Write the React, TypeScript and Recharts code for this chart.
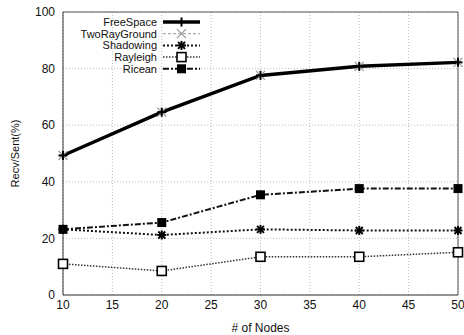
import React from 'react';
import {
  LineChart, Line, XAxis, YAxis, CartesianGrid, Legend, ReferenceLine,
} from 'recharts';

const nodes = [10, 20, 30, 40, 50];
const freeSpace = [49.3, 64.6, 77.6, 80.8, 82.2];
const twoRayGround = [49.3, 64.6, 77.6, 80.8, 82.2];
const shadowing = [23.2, 21.2, 23.2, 22.8, 22.8];
const rayleigh = [11, 8.5, 13.5, 13.5, 15.1];
const ricean = [23.2, 25.6, 35.4, 37.6, 37.6];

const xTicks = [10, 15, 20, 25, 30, 35, 40, 45, 50];
const yTicks = [0, 20, 40, 60, 80, 100];

const chartData = nodes.map((n, i) => ({
  n,
  freeSpace: freeSpace[i],
  twoRayGround: twoRayGround[i],
  shadowing: shadowing[i],
  rayleigh: rayleigh[i],
  ricean: ricean[i],
}));

const series = [
  { key: 'freeSpace', name: 'FreeSpace', stroke: '#000', width: 3.5, dash: undefined, marker: 'plus' },
  { key: 'twoRayGround', name: 'TwoRayGround', stroke: '#999', width: 1, dash: '3 2', marker: 'cross' },
  { key: 'shadowing', name: 'Shadowing', stroke: '#111', width: 2, dash: '2 2', marker: 'star' },
  { key: 'rayleigh', name: 'Rayleigh', stroke: '#333', width: 1.5, dash: '1.5 1.5', marker: 'box' },
  { key: 'ricean', name: 'Ricean', stroke: '#111', width: 2, dash: '6 2 2 2', marker: 'fbox' },
];

// TwoRayGround sits exactly under FreeSpace, so draw it first
const drawOrder = ['twoRayGround', 'freeSpace', 'shadowing', 'rayleigh', 'ricean'];

const FONT = '"Liberation Sans", Arial, sans-serif';

function Marker({ type, cx, cy }: { type: string; cx: number; cy: number }) {
  if (cx == null || cy == null) return null;
  const s = 4.5;
  if (type === 'plus') {
    return (
      <g stroke="#000" strokeWidth={2}>
        <line x1={cx - s} y1={cy} x2={cx + s} y2={cy} />
        <line x1={cx} y1={cy - s} x2={cx} y2={cy + s} />
      </g>
    );
  }
  if (type === 'cross') {
    return (
      <g stroke="#999" strokeWidth={1.2}>
        <line x1={cx - s} y1={cy - s} x2={cx + s} y2={cy + s} />
        <line x1={cx - s} y1={cy + s} x2={cx + s} y2={cy - s} />
      </g>
    );
  }
  if (type === 'star') {
    return (
      <g stroke="#000" strokeWidth={2}>
        <line x1={cx - s} y1={cy} x2={cx + s} y2={cy} />
        <line x1={cx} y1={cy - s} x2={cx} y2={cy + s} />
        <line x1={cx - s + 1} y1={cy - s + 1} x2={cx + s - 1} y2={cy + s - 1} />
        <line x1={cx - s + 1} y1={cy + s - 1} x2={cx + s - 1} y2={cy - s + 1} />
      </g>
    );
  }
  if (type === 'box') {
    return <rect x={cx - 4.5} y={cy - 4.5} width={9} height={9} fill="#fff" stroke="#000" strokeWidth={1.6} />;
  }
  return <rect x={cx - 4.5} y={cy - 4.5} width={9} height={9} fill="#000" />;
}

const LegendBox = () => (
  <svg width={140} height={68} style={{ display: 'block' }}>
    {series.map((s, i) => {
      const y = 10 + i * 11.7;
      return (
        <g key={s.key}>
          <text x={87} y={y} textAnchor="end" dominantBaseline="central" fontSize={11} fontFamily={FONT} fill="#111">
            {s.name}
          </text>
          <line x1={93} y1={y} x2={130} y2={y} stroke={s.stroke} strokeWidth={s.width} strokeDasharray={s.dash} />
          <Marker type={s.marker} cx={111.5} cy={y} />
        </g>
      );
    })}
  </svg>
);

const YLabel = (props: any) => {
  const vb = props.viewBox || {};
  const cy = (vb.y ?? 12) + (vb.height ?? 283) / 2;
  const cx = 15;
  return (
    <text x={cx} y={cy} transform={`rotate(-90, ${cx}, ${cy})`} textAnchor="middle" dominantBaseline="central"
      fontSize={11} fontFamily={FONT} fill="#111">
      Recv/Sent(%)
    </text>
  );
};

export default function App() {
  return (
    <div style={{ position: 'fixed', left: 0, top: 0, width: 464, height: 335, background: '#fff' }}>
      <LineChart width={464} height={335} data={chartData} margin={{ top: 12, right: 6, bottom: 0, left: 0 }}>
        <CartesianGrid stroke="#bbb" strokeDasharray="1 2" />
        <XAxis
          dataKey="n" type="number" domain={[10, 50]} ticks={xTicks} height={40}
          stroke="#333" tickLine={false} tickSize={4} tickMargin={1}
          tick={{ fontSize: 12, fontFamily: FONT, fill: '#111' }}
          label={{ value: '# of Nodes', position: 'insideBottom', offset: 3, fontSize: 12, fontFamily: FONT, fill: '#111' }}
        />
        <YAxis
          type="number" domain={[0, 100]} ticks={yTicks} width={63}
          stroke="#333" tickLine={false} tickSize={6} tickMargin={2}
          tick={{ fontSize: 12, fontFamily: FONT, fill: '#111' }}
          label={YLabel}
        />
        <ReferenceLine y={100} stroke="#555" />
        <ReferenceLine x={50} stroke="#555" />
        {drawOrder.map((k) => {
          const s = series.find((x) => x.key === k)!;
          return (
            <Line
              key={s.key}
              dataKey={s.key}
              name={s.name}
              stroke={s.stroke}
              strokeWidth={s.width}
              strokeDasharray={s.dash}
              isAnimationActive={false}
              dot={(p: any) => <Marker key={`${s.key}-${p.index}`} type={s.marker} cx={p.cx} cy={p.cy} />}
              activeDot={false}
            />
          );
        })}
        <Legend
          layout="vertical" align="center" verticalAlign="middle"
          wrapperStyle={{ left: 70, top: 12, width: 140, height: 68 }}
          content={LegendBox}
        />
      </LineChart>
    </div>
  );
}
